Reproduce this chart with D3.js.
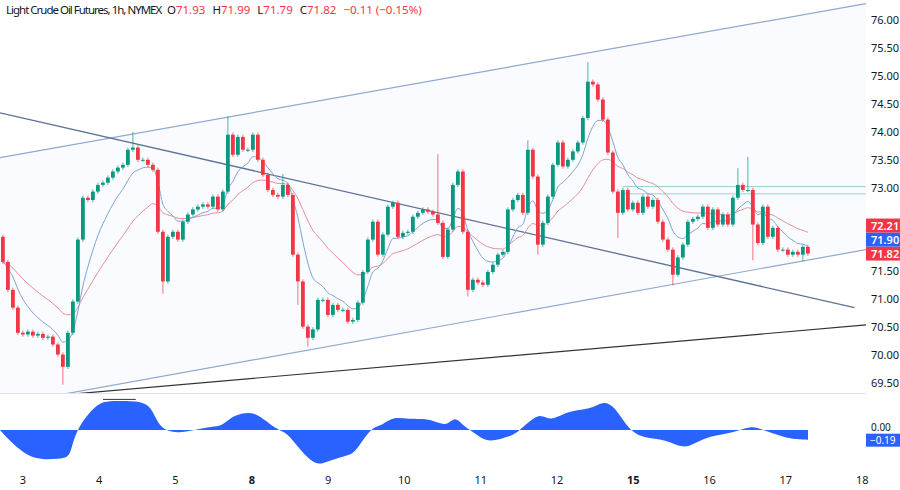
<!DOCTYPE html>
<html>
<head>
<meta charset="utf-8">
<script src="https://cdn.jsdelivr.net/npm/d3@7"></script>
<style>
  body { margin: 0; background: #fff; }
  svg { font-family: "Noto Sans", "DejaVu Sans", sans-serif; }
</style>
</head>
<body>
<div id="chart"></div>
<script>
// ---------- data ----------
const dayLabels = ["3", "4", "5", "8", "9", "10", "11", "12", "15", "16", "17", "18"];
const boldDays = ["8", "15"];
const priceTicks = [69.5, 70, 70.5, 71, 71.5, 72, 72.5, 73, 73.5, 74, 74.5, 75, 75.5, 76];

// candle closes, evenly spaced in time between candleStart and candleEnd (days after "3")
const candleStart = -0.262, candleEnd = 10.288;
const openFirst = 72.12;
const closes = [
  71.67, 71.17, 70.85, 70.40, 70.37, 70.42, 70.35, 70.38, 70.31, 70.33, 70.19, 70.01, 69.79, 70.40, 70.96,
  72.07, 72.82, 72.78, 72.93, 73.05, 73.09, 73.18, 73.29, 73.36, 73.41, 73.68, 73.72, 73.50, 73.50, 73.41,
  73.32, 72.21, 71.32, 72.12, 72.21, 72.07, 72.39, 72.52, 72.61, 72.66, 72.70, 72.66, 72.84, 72.61, 72.93,
  73.95, 73.59, 73.91, 73.68, 73.68, 73.95, 73.50, 73.23, 72.96, 72.87, 72.84, 73.05, 72.87, 71.80, 71.32,
  70.51, 70.31, 70.46, 70.99, 70.99, 70.72, 70.90, 70.81, 70.81, 70.60, 70.63, 70.94, 71.49, 72.07, 72.39,
  71.80, 72.16, 72.66, 72.73, 72.12, 72.19, 72.21, 72.48, 72.55, 72.61, 72.57, 72.52, 72.37, 71.76, 72.25,
  73.05, 73.29, 72.21, 71.17, 71.35, 71.30, 71.26, 71.49, 71.62, 71.80, 71.85, 72.61, 72.78, 72.87, 72.55,
  73.68, 73.20, 71.98, 72.37, 72.84, 73.41, 73.81, 73.38, 73.50, 73.65, 73.81, 74.25, 74.90, 74.85, 74.58,
  74.22, 73.63, 72.93, 72.55, 72.96, 72.61, 72.73, 72.55, 72.84, 72.66, 72.78, 72.39, 72.07, 71.89, 71.44,
  71.75, 71.98, 72.39, 72.44, 72.48, 72.66, 72.28, 72.61, 72.34, 72.52, 72.34, 72.82, 73.05, 72.96, 72.96,
  72.34, 72.01, 72.66, 72.12, 72.28, 71.89, 71.89, 71.80, 71.85, 71.80, 71.94, 71.82
];
// notable wicks [candle index, price]; other candles get a short wick
const highWicks = [[26, 74.00], [45, 74.28], [87, 73.60], [105, 73.85], [117, 75.25], [147, 73.35], [149, 73.55], [56, 73.25]];
const lowWicks = [[12, 69.47], [32, 71.10], [59, 70.90], [61, 70.15], [93, 71.05], [107, 71.80], [123, 72.10], [134, 71.25], [150, 71.70], [160, 71.68]];

// trend lines [day1, price1, day2, price2]
const channelTop = [-0.30, 73.54, 11.05, 76.30];
const channelBottom = [0.49, 69.29, 11.05, 71.89];
const fallingLine = [-0.30, 74.34, 10.90, 70.85];
const blackLine = [0.55, 69.29, 11.05, 70.54];
const levelLines = [[7.86, 73.02], [7.86, 72.89]];

// right-edge labels
const lastPrice = 71.82;
const maLabels = [{ v: 72.21, c: "#f23645" }, { v: 71.90, c: "#2962ff" }];
const header = { name: "Light Crude Oil Futures, 1h, NYMEX", o: "71.93", h: "71.99", l: "71.79", c: "71.82", ch: "\u22120.11 (\u22120.15%)" };

// oscillator pane
const oscDay = [-0.30, -0.16, 0, 0.14, 0.30, 0.45, 0.60, 0.64, 0.71, 0.83, 0.98, 1.13, 1.35, 1.59, 1.69, 1.77, 1.87,
  2.03, 2.25, 2.48, 2.60, 2.71, 2.86, 3.04, 3.20, 3.34, 3.46, 3.62, 3.84, 3.98, 4.21, 4.33, 4.44, 4.59, 4.71, 4.85,
  5.05, 5.31, 5.49, 5.57, 5.67, 5.79, 5.87, 6.06, 6.24, 6.44, 6.51, 6.62, 6.78, 6.92, 7.14, 7.44, 7.60, 7.75, 7.94,
  8.13, 8.43, 8.65, 8.81, 8.99, 9.33, 9.55, 9.70, 9.93, 10.08, 10.29];
const oscVal = [0, -0.23, -0.44, -0.55, -0.58, -0.56, -0.55, -0.33, 0, 0.27, 0.52, 0.57, 0.57, 0.55, 0.41, 0.13, -0.01,
  -0.06, 0, 0.07, 0.07, 0.23, 0.33, 0.35, 0.16, 0, -0.05, -0.37, -0.71, -0.62, -0.51, -0.48, -0.23, 0.07, 0.09, 0.26,
  0.21, 0.23, 0.11, 0.11, 0.27, 0.06, 0, -0.23, -0.19, -0.09, 0, 0.14, 0.34, 0.16, 0.38, 0.40, 0.57, 0.48, 0,
  -0.16, -0.18, -0.37, -0.26, -0.12, -0.05, 0.09, 0, -0.12, -0.18, -0.19];

// ---------- layout ----------
const W = 900, H = 490;
const plotRight = 866;
const svg = d3.select("#chart").append("svg").attr("width", W).attr("height", H);

const x = d3.scaleLinear().domain([-0.30, 11.05]).range([0, plotRight]);
const y = d3.scaleLinear().domain([69.5, 76]).range([383, 20.3]);
const yOsc = d3.scaleLinear().domain([-1, 1]).range([481, 379]);

const green = "#089981", red = "#f23645";

// build candles
const n = closes.length;
const dt = (candleEnd - candleStart) / (n - 1);
const hiMap = new Map(highWicks), loMap = new Map(lowWicks);
const candles = closes.map((c, i) => {
  const o = i === 0 ? openFirst : closes[i - 1];
  return {
    t: candleStart + i * dt, o, c,
    h: hiMap.has(i) ? hiMap.get(i) : Math.max(o, c) + 0.04,
    l: loMap.has(i) ? loMap.get(i) : Math.min(o, c) - 0.04
  };
});

function ema(vals, len) {
  const k = 2 / (len + 1);
  let prev = vals[0];
  return vals.map(v => (prev = v * k + prev * (1 - k)));
}
const fast = ema(closes, 8), slow = ema(closes, 22);

const main = svg.append("g");
main.append("clipPath").attr("id", "clip").append("rect").attr("width", plotRight).attr("height", 393);
const g = main.append("g").attr("clip-path", "url(#clip)");

// channel tint
const poly = [[channelTop[0], channelTop[1]], [channelTop[2], channelTop[3]],
  [channelBottom[2], channelBottom[3]], [channelBottom[0], channelBottom[1]],
  [-0.30, channelBottom[1] - (channelBottom[3] - channelBottom[1]) / (channelBottom[2] - channelBottom[0]) * 0.79]];
g.append("path")
  .attr("d", d3.line().x(d => x(d[0])).y(d => y(d[1]))(poly) + "Z")
  .attr("fill", "#2962ff").attr("fill-opacity", 0.025);

// level lines
levelLines.forEach(l => {
  g.append("line").attr("x1", x(l[0])).attr("x2", plotRight).attr("y1", y(l[1])).attr("y2", y(l[1]))
    .attr("stroke", "#9fcfc8").attr("stroke-width", 1);
});

// trend lines
[[channelTop, "#8fa9d3", 1.2], [channelBottom, "#8fa9d3", 1.2], [fallingLine, "#5d7196", 1.3], [blackLine, "#333", 1.2]]
  .forEach(([l, col, w]) => {
    g.append("line").attr("x1", x(l[0])).attr("y1", y(l[1])).attr("x2", x(l[2])).attr("y2", y(l[3]))
      .attr("stroke", col).attr("stroke-width", w);
  });

// moving averages
const maLine = arr => d3.line().x((d, i) => x(candles[i].t)).y(d => y(d)).curve(d3.curveMonotoneX)(arr);
g.append("path").attr("d", maLine(slow)).attr("fill", "none").attr("stroke", "#e58f96").attr("stroke-width", 1);
g.append("path").attr("d", maLine(fast)).attr("fill", "none").attr("stroke", "#7ea3d6").attr("stroke-width", 1);

// candles
const cw = 3.8;
const cg = g.selectAll(".candle").data(candles).enter().append("g");
cg.append("line")
  .attr("x1", d => x(d.t)).attr("x2", d => x(d.t))
  .attr("y1", d => y(d.h)).attr("y2", d => y(d.l))
  .attr("stroke", d => d.c >= d.o ? green : red).attr("stroke-width", 1).attr("stroke-opacity", 0.7);
cg.append("rect")
  .attr("x", d => x(d.t) - cw / 2).attr("width", cw)
  .attr("y", d => y(Math.max(d.o, d.c)))
  .attr("height", d => Math.max(1, Math.abs(y(d.o) - y(d.c))))
  .attr("fill", d => d.c >= d.o ? green : red);

// price axis: tags stacked upward from the last price so they don't collide
const tags = [{ v: lastPrice, c: red }].concat(maLabels.slice().sort((a, b) => a.v - b.v));
let prevY = Infinity;
tags.forEach(t => {
  t.y = Math.min(y(t.v), prevY - 14);
  prevY = t.y;
});
const ax = svg.append("g");
ax.selectAll("text").data(priceTicks.filter(p => tags.every(t => Math.abs(y(p) - t.y) > 11)))
  .enter().append("text")
  .attr("x", 871).attr("y", d => y(d) + 4).attr("font-size", 11).attr("fill", "#131722")
  .text(d => d.toFixed(2));

tags.forEach(t => {
  ax.append("rect").attr("x", 866).attr("y", t.y - 7).attr("width", 34).attr("height", 14).attr("fill", t.c);
  ax.append("text").attr("x", 871).attr("y", t.y + 4).attr("font-size", 11).attr("fill", "#fff")
    .attr("font-weight", 600).text(t.v.toFixed(2));
});

// header
const hd = svg.append("text").attr("x", 6).attr("y", 14).attr("font-size", 11.5).attr("fill", "#131722");
hd.append("tspan").attr("textLength", 156).text(header.name);
[["O", header.o], ["H", header.h], ["L", header.l], ["C", header.c]].forEach(([k, v], i) => {
  hd.append("tspan").attr("dx", i === 0 ? 6 : 7).text(k);
  hd.append("tspan").attr("fill", red).text(v);
});
hd.append("tspan").attr("dx", 7).attr("fill", red).text(header.ch);

// pane separator
svg.append("line").attr("x1", 0).attr("x2", plotRight).attr("y1", 393.5).attr("y2", 393.5).attr("stroke", "#e0e3eb");

// oscillator
const osc = oscDay.map((d, i) => [d, oscVal[i]]);
svg.append("path")
  .attr("d", d3.area().x(d => x(d[0])).y0(yOsc(0)).y1(d => yOsc(d[1])).curve(d3.curveBasis)(osc))
  .attr("fill", "#2962ff");
svg.append("line").attr("x1", x(1.05)).attr("x2", x(1.48)).attr("y1", yOsc(0.6)).attr("y2", yOsc(0.6))
  .attr("stroke", "#333").attr("stroke-width", 1);
svg.append("text").attr("x", 871).attr("y", yOsc(0) + 1).attr("font-size", 10).attr("fill", "#131722").text("0.00");
svg.append("rect").attr("x", 866).attr("y", yOsc(-0.19) - 6).attr("width", 34).attr("height", 13).attr("fill", "#2962ff");
svg.append("text").attr("x", 870).attr("y", yOsc(-0.19) + 4).attr("font-size", 10).attr("fill", "#fff").text("\u22120.19");

// time axis
svg.selectAll(".day").data(dayLabels).enter().append("text")
  .attr("x", (d, i) => x(i)).attr("y", 484).attr("text-anchor", "middle")
  .attr("font-size", 11).attr("fill", "#131722")
  .attr("font-weight", d => boldDays.includes(d) ? 700 : 400)
  .text(d => d);
</script>
</body>
</html>
